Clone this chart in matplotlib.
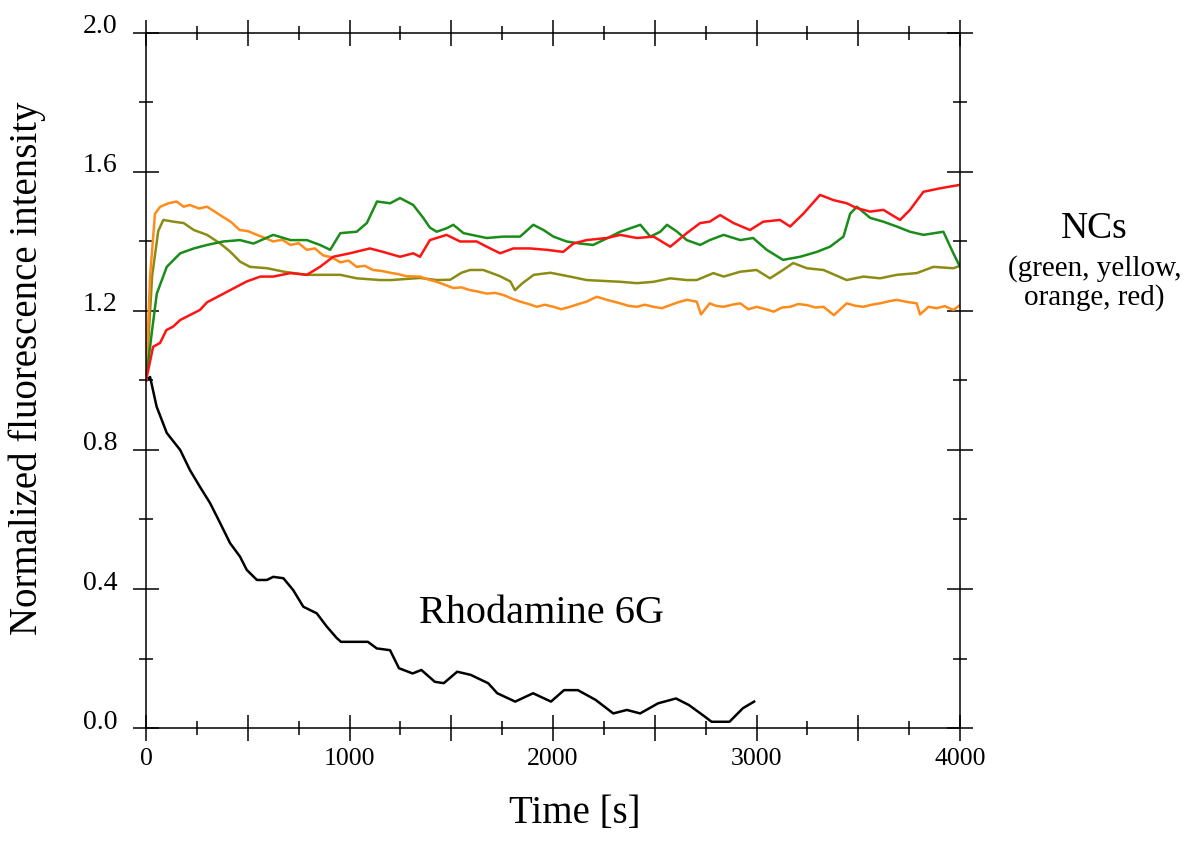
import matplotlib
matplotlib.use("Agg")
import matplotlib.pyplot as plt
import numpy as np
from matplotlib.ticker import MultipleLocator, FuncFormatter
from matplotlib.transforms import ScaledTranslation

# time [s] / normalized intensity
t_orange = [0, 20, 44, 70, 110, 150, 185, 215, 260, 300, 340, 380, 420, 460, 500, 545, 585, 625, 670, 710, 750, 790, 830,
            870, 910, 955, 995, 1035, 1075, 1115, 1160, 1200, 1240, 1280, 1346, 1390, 1428, 1470, 1510, 1550, 1592, 1630,
            1674, 1715, 1756, 1800, 1838, 1880, 1920, 1960, 2002, 2040, 2083, 2125, 2165, 2215, 2265, 2330, 2370, 2412,
            2450, 2494, 2535, 2576, 2615, 2657, 2706, 2727, 2770, 2800, 2838, 2880, 2920, 2960, 3000, 3040, 3084, 3125,
            3165, 3205, 3247, 3290, 3329, 3380, 3443, 3485, 3525, 3565, 3607, 3650, 3689, 3740, 3787, 3803, 3845, 3885,
            3925, 3967, 4000]
v_orange = [1.0, 1.30, 1.48, 1.50, 1.51, 1.515, 1.50, 1.505, 1.495, 1.50, 1.485, 1.47, 1.455, 1.433, 1.43, 1.419, 1.41,
            1.40, 1.405, 1.39, 1.395, 1.376, 1.38, 1.36, 1.355, 1.34, 1.345, 1.327, 1.33, 1.318, 1.315, 1.31, 1.306, 1.30,
            1.299, 1.29, 1.284, 1.275, 1.266, 1.268, 1.26, 1.256, 1.25, 1.252, 1.246, 1.235, 1.227, 1.22, 1.212, 1.218,
            1.212, 1.205, 1.212, 1.22, 1.227, 1.241, 1.232, 1.222, 1.215, 1.212, 1.218, 1.212, 1.208, 1.217, 1.225, 1.232,
            1.227, 1.19, 1.222, 1.215, 1.212, 1.218, 1.222, 1.205, 1.212, 1.206, 1.198, 1.21, 1.212, 1.22, 1.217, 1.21,
            1.212, 1.188, 1.222, 1.215, 1.212, 1.218, 1.222, 1.228, 1.232, 1.226, 1.222, 1.19, 1.212, 1.208, 1.214, 1.203,
            1.217]

t_olive = [0, 30, 60, 85, 135, 185, 235, 300, 365, 413, 462, 511, 595, 678, 790, 870, 955, 1035, 1150, 1205, 1346, 1430,
           1495, 1550, 1592, 1657, 1740, 1790, 1813, 1850, 1905, 1987, 2083, 2165, 2330, 2412, 2494, 2576, 2657, 2706,
           2788, 2838, 2920, 3000, 3066, 3130, 3180, 3247, 3329, 3443, 3525, 3607, 3689, 3787, 3869, 3967, 4000]
v_olive = [1.0, 1.30, 1.43, 1.462, 1.457, 1.453, 1.433, 1.419, 1.394, 1.371, 1.342, 1.327, 1.323, 1.313, 1.304, 1.304,
           1.304, 1.294, 1.289, 1.289, 1.295, 1.289, 1.29, 1.31, 1.318, 1.318, 1.30, 1.285, 1.26, 1.28, 1.304, 1.31,
           1.299, 1.289, 1.284, 1.28, 1.284, 1.294, 1.289, 1.289, 1.309, 1.299, 1.313, 1.318, 1.294, 1.318, 1.338, 1.323,
           1.318, 1.289, 1.299, 1.294, 1.304, 1.309, 1.327, 1.323, 1.33]

t_green = [0, 28, 53, 102, 168, 235, 300, 380, 462, 528, 625, 710, 790, 855, 905, 955, 1035, 1085, 1135, 1200, 1248,
           1313, 1362, 1395, 1428, 1477, 1510, 1560, 1674, 1756, 1838, 1903, 1953, 2002, 2067, 2133, 2197, 2282, 2330,
           2429, 2478, 2527, 2560, 2610, 2657, 2723, 2770, 2838, 2920, 2983, 3050, 3130, 3214, 3296, 3361, 3427, 3460,
           3493, 3558, 3623, 3689, 3754, 3820, 3918, 3967, 4000]
v_green = [1.0, 1.136, 1.25, 1.327, 1.366, 1.38, 1.39, 1.40, 1.404, 1.394, 1.419, 1.404, 1.404, 1.39, 1.376, 1.424,
           1.428, 1.453, 1.515, 1.51, 1.525, 1.505, 1.468, 1.44, 1.428, 1.438, 1.448, 1.424, 1.41, 1.414, 1.414, 1.448,
           1.433, 1.414, 1.40, 1.394, 1.39, 1.414, 1.428, 1.448, 1.414, 1.428, 1.448, 1.428, 1.404, 1.39, 1.404, 1.419,
           1.404, 1.41, 1.376, 1.347, 1.356, 1.37, 1.385, 1.414, 1.48, 1.50, 1.468, 1.457, 1.443, 1.428, 1.419, 1.428,
           1.366, 1.327]

t_red = [0, 35, 69, 100, 133, 168, 235, 265, 300, 365, 430, 495, 562, 625, 710, 790, 855, 920, 1002, 1100, 1165, 1248,
         1313, 1346, 1395, 1477, 1543, 1625, 1674, 1740, 1805, 1887, 1969, 2050, 2100, 2165, 2265, 2330, 2412, 2494,
         2576, 2657, 2723, 2770, 2821, 2887, 2968, 3033, 3115, 3165, 3230, 3312, 3378, 3443, 3493, 3558, 3623, 3705,
         3754, 3820, 3902, 4000]
v_red = [1.0, 1.097, 1.108, 1.145, 1.155, 1.174, 1.194, 1.203, 1.225, 1.245, 1.265, 1.285, 1.299, 1.299, 1.309, 1.304,
         1.327, 1.356, 1.366, 1.38, 1.37, 1.356, 1.366, 1.356, 1.404, 1.419, 1.40, 1.40, 1.385, 1.366, 1.38, 1.38, 1.376,
         1.37, 1.394, 1.404, 1.41, 1.419, 1.41, 1.414, 1.385, 1.424, 1.453, 1.457, 1.476, 1.453, 1.433, 1.457, 1.462,
         1.443, 1.48, 1.534, 1.519, 1.51, 1.496, 1.486, 1.491, 1.462, 1.491, 1.543, 1.553, 1.563]

t_rhod = [0, 20, 52, 102, 168, 216, 265, 315, 364, 413, 462, 495, 545, 594, 625, 675, 723, 773, 839, 888, 937, 958, 1090,
          1134, 1199, 1243, 1310, 1353, 1419, 1463, 1529, 1595, 1681, 1726, 1814, 1902, 1990, 2054, 2122, 2209, 2296,
          2363, 2428, 2516, 2604, 2668, 2736, 2779, 2867, 2933, 2988]
v_rhod = [1.0, 1.01, 0.925, 0.849, 0.80, 0.742, 0.694, 0.647, 0.59, 0.532, 0.493, 0.455, 0.426, 0.426, 0.435, 0.431,
          0.397, 0.349, 0.33, 0.292, 0.259, 0.248, 0.248, 0.229, 0.224, 0.172, 0.157, 0.167, 0.133, 0.129, 0.162, 0.153,
          0.129, 0.10, 0.076, 0.10, 0.076, 0.109, 0.109, 0.081, 0.042, 0.052, 0.042, 0.071, 0.085, 0.066, 0.037, 0.018,
          0.018, 0.057, 0.076]

plt.rcParams['font.family'] = ['Liberation Serif', 'DejaVu Serif']

fig = plt.figure(figsize=(11.91, 8.43), dpi=100)
ax = fig.add_axes([0.1226, 0.1364, 0.6835, 0.8245])

lw = 1.8
ax.plot(t_rhod, v_rhod, color='black', lw=lw)
ax.plot(t_olive, v_olive, color='#8c8c14', lw=lw)
ax.plot(t_orange, v_orange, color='#ff8c1a', lw=lw)
ax.plot(t_green, v_green, color='#1a8c1a', lw=lw)
ax.plot(t_red, v_red, color='#ff1414', lw=lw)

ax.set_xlim(0, 4000)
ax.set_ylim(0, 2.0)

ax.xaxis.set_major_locator(MultipleLocator(500))
ax.xaxis.set_minor_locator(MultipleLocator(250))
ax.yaxis.set_major_locator(MultipleLocator(0.4))
ax.yaxis.set_minor_locator(MultipleLocator(0.2))
ax.xaxis.set_major_formatter(FuncFormatter(lambda x, p: "%d" % x if int(round(x)) % 1000 == 0 else ""))
ax.yaxis.set_major_formatter(FuncFormatter(lambda y, p: "%.1f" % y))

ax.tick_params(which='both', direction='inout', top=True, right=True, width=1.1)
ax.tick_params(which='major', length=19)
ax.tick_params(which='minor', length=10)
ax.tick_params(axis='x', pad=5, labelsize=18.5)
ax.tick_params(axis='y', pad=11, labelsize=20)
for s in ax.spines.values():
    s.set_linewidth(1.1)

# y labels sit a little above their ticks in the original
for lab in ax.get_yticklabels():
    lab.set_transform(lab.get_transform() + ScaledTranslation(0, 9 / 100, fig.dpi_scale_trans))

ax.set_xlabel("Time [s]", fontsize=28)
ax.set_ylabel("Normalized fluorescence intensity", fontsize=28)
ax.xaxis.set_label_coords(0.527, -0.097)
ax.yaxis.set_label_coords(-0.123, 0.518)

ax.text(0.486, 0.165, "Rhodamine 6G", transform=ax.transAxes, fontsize=29, ha='center', va='center')
fig.text(0.919, 0.729, "NCs", fontsize=27, ha='center', va='center')
fig.text(0.919, 0.682, "(green, yellow,", fontsize=21, ha='center', va='center')
fig.text(0.919, 0.647, "orange, red)", fontsize=21, ha='center', va='center')

plt.savefig("out.png", dpi=100)
